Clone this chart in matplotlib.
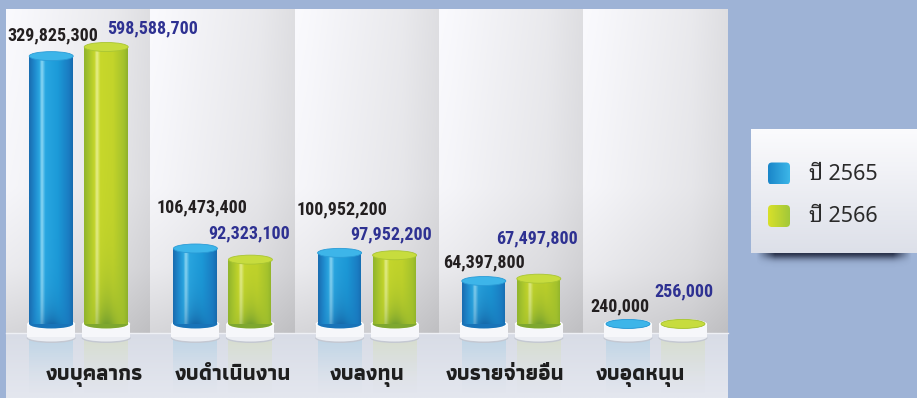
import matplotlib
matplotlib.use("Agg")
import matplotlib.pyplot as plt
import numpy as np
from matplotlib.patches import Ellipse, Rectangle, FancyBboxPatch
from matplotlib.transforms import ScaledTranslation
from matplotlib.colors import to_rgb

categories = ["งบบุคลากร", "งบดำเนินงาน", "งบลงทุน", "งบรายจ่ายอื่น", "งบอุดหนุน"]
years = ["ปี 2565", "ปี 2566"]
budget_2565 = [329825300, 106473400, 100952200, 64397800, 240000]
budget_2566 = [598588700, 92323100, 97952200, 67497800, 256000]

# hand-placed nudges for the value labels (pixels from the cylinder top)
nudge_2565 = [(2, 21), (7, 41), (2, 43), (0, 19), (-8, 17)]
nudge_2566 = [(46, 19), (-1, 26), (-3, 21), (-2, 40), (1, 32)]
cat_shift = [16, 10, 0, -6, -15]

W, H = 917, 398
BG = "#9eb3d6"

# display scale: mild power curve, squashed above 330M so the tall bar fits
P, C, V0, K = 1.12, 0.405, 330.0, 0.0335


def fwd(v):
    m = np.abs(np.asarray(v, float)) / 1e6
    out = np.where(m <= V0, C * m ** P, C * V0 ** P + (m - V0) * K)
    return np.sign(v) * out


def inv(u):
    u = np.asarray(u, float)
    a = np.abs(u)
    h0 = C * V0 ** P
    m = np.where(a <= h0, (a / C) ** (1 / P), V0 + (a - h0) / K)
    return np.sign(u) * m * 1e6


fig = plt.figure(figsize=(W / 100, H / 100), dpi=100, facecolor=BG)

# ---- backdrop: striped panel, floor, legend card --------------------------
bg = fig.add_axes([0, 0, 1, 1])
bg.set_xlim(0, W)
bg.set_ylim(H, 0)
bg.axis("off")

col_edges = [6, 150, 295, 439, 583, 728]
floor_y = 333
xs = np.linspace(0, 1, 120)
ys = np.linspace(0, 1, 120)
shade_x = np.interp(xs, [0, 0.08, 0.35, 0.75, 1.0], [0.995, 0.99, 0.965, 0.93, 0.885])
shade_y = np.interp(ys, [0, 0.55, 0.8, 1.0], [1.0, 0.985, 0.94, 0.86])
lum = shade_y[:, None] * shade_x[None, :]
tint = np.array([0.985, 0.985, 1.0])
col_img = np.clip(lum[..., None] * tint, 0, 1)
for x0, x1 in zip(col_edges[:-1], col_edges[1:]):
    bg.imshow(col_img, extent=(x0, x1, floor_y, 9), aspect="auto",
              interpolation="bilinear", zorder=1)

fl = np.linspace(0, 1, 60)[:, None, None]
floor_img = (1 - fl) * np.array(to_rgb("#d8dce6")) + fl * np.array(to_rgb("#e4e7ef"))
floor_img = np.repeat(floor_img, 4, axis=1)
bg.imshow(floor_img, extent=(6, 728, H, floor_y), aspect="auto",
          interpolation="bilinear", zorder=1)
bg.plot([6, 728], [floor_y, floor_y], color="#eef0f5", lw=1.0, zorder=2)

# legend card shadow
sx = np.linspace(0, 1, 200)
sy = np.linspace(0, 1, 40)
ax_prof = np.clip(np.minimum(sx / 0.12, (1 - sx) / 0.12), 0, 1)
ay_prof = np.exp(-((sy - 0.42) / 0.22) ** 2)
alpha = (ay_prof[:, None] * ax_prof[None, :]) * 0.9
shadow = np.zeros((40, 200, 4))
shadow[..., :3] = to_rgb("#1b233b")
shadow[..., 3] = alpha
bg.imshow(shadow, extent=(756, 912, 270, 240), aspect="auto",
          interpolation="bilinear", zorder=2)

card_t = np.linspace(0, 1, 80)[:, None, None]
card = (1 - card_t) * np.array(to_rgb("#fbfbfd")) + card_t * np.array(to_rgb("#dde0e9"))
card = np.repeat(card, 4, axis=1)
bg.imshow(card, extent=(751, 920, 253, 129), aspect="auto",
          interpolation="bilinear", zorder=3)

series_fill = [("#1a86c9", "#3cb6e8"), ("#d8e02a", "#a2c83a")]
for k, (label, (c_a, c_b)) in enumerate(zip(years, series_fill)):
    cy = 173.5 + k * 42.5
    box = FancyBboxPatch((768, cy - 11), 22, 22,
                         boxstyle="round,pad=0,rounding_size=4",
                         fc="none", ec="none", zorder=4)
    bg.add_patch(box)
    t = np.linspace(0, 1, 30)[None, :, None]
    sw = (1 - t) * np.array(to_rgb(c_a)) + t * np.array(to_rgb(c_b))
    im = bg.imshow(np.repeat(sw, 4, axis=0), extent=(768, 790, cy + 11, cy - 11),
                   aspect="auto", interpolation="bilinear", zorder=4)
    im.set_clip_path(box)
    bg.text(809, cy + 1, label, va="center", ha="left", fontsize=15.5,
            color="#2a2a2a", family=["Noto Sans Thai Looped", "DejaVu Sans"],
            zorder=5)

# ---- chart axes -----------------------------------------------------------
ax = fig.add_axes([6 / W, 0, 722 / W, 389 / H], zorder=2)
ax.patch.set_alpha(0)
ax.set_yscale("function", functions=(fwd, inv))
pitch = 144.2
x_lo = -72.7 / pitch
ax.axis("off")

bar_px = 44.0
bar_w = bar_px / pitch
offset = 27.5 / pitch

styles = {
    "2565": dict(
        stops=[(0.0, "#1a6fb3"), (0.12, "#1f8ccf"), (0.22, "#2aa6e0"),
               (0.28, "#8ad6f3"), (0.36, "#29a7e1"), (0.65, "#1c9ad8"),
               (0.9, "#1a7cc2"), (1.0, "#1769ac")],
        dark="#135a9c", top="#3db5e9", top_edge="#2a9bd6",
        bottom="#1873b8", mirror="#8cc6e6", text="#231f20"),
    "2566": dict(
        stops=[(0.0, "#93b62c"), (0.12, "#acc82c"), (0.22, "#c4d52b"),
               (0.28, "#e6ee8a"), (0.36, "#c8d82b"), (0.65, "#c3d42a"),
               (0.9, "#a4c22c"), (1.0, "#8db02b")],
        dark="#5f9130", top="#c7dc3e", top_edge="#a9c533",
        bottom="#7ea72f", mirror="#d3dfa0", text="#2e3192"),
}


def body_image(style, h_px):
    pos = [s[0] for s in style["stops"]]
    cols = np.array([to_rgb(s[1]) for s in style["stops"]])
    u = np.linspace(0, 1, 64)
    row = np.stack([np.interp(u, pos, cols[:, j]) for j in range(3)], axis=-1)
    n = max(int(round(h_px)), 2)
    img = np.repeat(row[None, :, :], n, axis=0)
    depth = np.arange(n)[::-1].astype(float)  # 0 at the bottom row
    fade = np.exp(-depth / 22.0)[:, None] * np.exp(-((u - 0.5) / 0.28) ** 2)[None, :]
    dark = np.array(to_rgb(style["dark"]))
    img = img * (1 - 0.75 * fade[..., None]) + dark * 0.75 * fade[..., None]
    return np.clip(img, 0, 1)


def draw_cylinder(cx, value, style):
    base = ScaledTranslation(cx, 0, ax.transData)
    half = bar_px / 2
    # mirror image on the floor
    for s in range(28):
        a = 0.32 * (1 - s / 28) ** 1.6
        ax.add_patch(Rectangle((-half, -15 - 2 * (s + 1)), bar_px, 2,
                               fc=style["mirror"], ec="none", alpha=a,
                               transform=base, zorder=1))
    # white collar
    ax.add_patch(Ellipse((0, -14), bar_px + 5, 10, fc="#c4c8d2", ec="none",
                         transform=base, zorder=2))
    ax.add_patch(Ellipse((0, -13), bar_px + 4, 9, fc="#eceef3", ec="none",
                         transform=base, zorder=2))
    ax.add_patch(Rectangle((-half - 2, -13), bar_px + 4, 13, fc="#f6f7fa",
                           ec="none", transform=base, zorder=2))
    ax.add_patch(Ellipse((0, 0), bar_px + 4, 10, fc="#ffffff", ec="none",
                         transform=base, zorder=2))
    ax.add_patch(Ellipse((0, 0), bar_px, 9, fc=style["bottom"], ec="none",
                         transform=base, zorder=3))
    # body
    h_px = float(fwd(value))
    ax.imshow(body_image(style, h_px), extent=(cx - bar_w / 2, cx + bar_w / 2, 0, value),
              aspect="auto", interpolation="bilinear", zorder=4)
    # lid
    top = ScaledTranslation(cx, value, ax.transData)
    ax.add_patch(Ellipse((0, 0), bar_px, 9, fc=style["top"], ec=style["top_edge"],
                         lw=0.6, transform=top, zorder=5))


num_font = dict(family=["Roboto Condensed", "DejaVu Sans"], weight="bold", fontsize=13)
for i in range(len(categories)):
    for key, vals, nudges, sgn in (("2565", budget_2565, nudge_2565, -1),
                                    ("2566", budget_2566, nudge_2566, 1)):
        cx = i + sgn * offset
        st = styles[key]
        draw_cylinder(cx, vals[i], st)
        dx, dy = nudges[i]
        ax.annotate(f"{vals[i]:,}", xy=(cx, vals[i]), xytext=(dx, dy),
                    textcoords="offset pixels", ha="center", va="center",
                    color=st["text"], zorder=6, **num_font)
    ax.annotate(categories[i], xy=(i, 0), xytext=(cat_shift[i], -56),
                textcoords="offset pixels", ha="center", va="baseline",
                fontsize=15.5, fontweight="bold", color="#1e1e1e",
                family=["Athiti", "DejaVu Sans"], zorder=6)

ax.set_xlim(x_lo, x_lo + 722 / pitch)
ax.set_ylim(inv(-74), inv(315))

fig.savefig("out.png", dpi=100, facecolor=BG)
